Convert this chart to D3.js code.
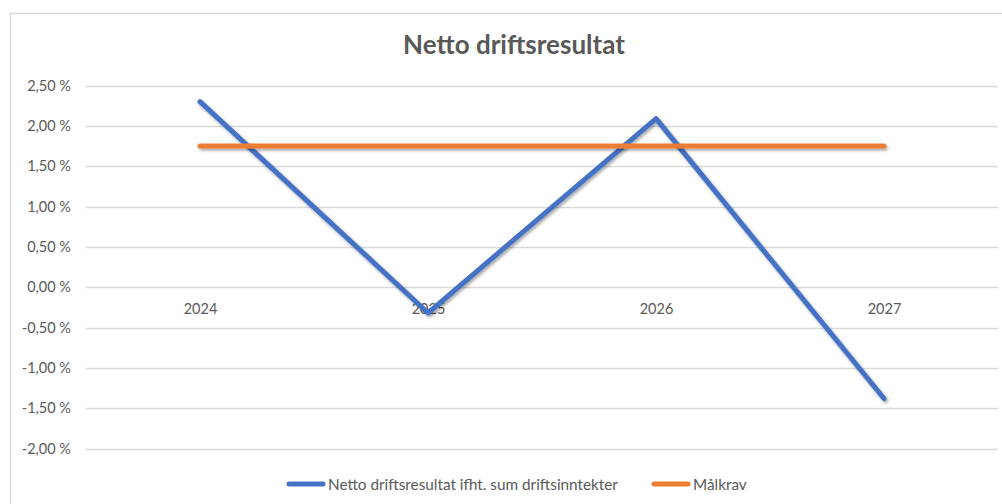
<!DOCTYPE html>
<html>
<head>
<meta charset="utf-8">
<script src="https://cdn.jsdelivr.net/npm/d3@7"></script>
<style>
    body { margin: 0; background: #fff; }
    svg { display: block; font-family: Lato, "Open Sans", sans-serif; }
</style>
</head>
<body>
<div id="chart"></div>
<script>
// chart data
var years = ["2024", "2025", "2026", "2027"];
var nettoResultat = [2.30, -0.32, 2.09, -1.38];
var maalkrav = [1.75, 1.75, 1.75, 1.75];
var yTicks = [-2.0, -1.5, -1.0, -0.5, 0, 0.5, 1.0, 1.5, 2.0, 2.5];
var seriesNames = ["Netto driftsresultat ifht. sum driftsinntekter", "Målkrav"];

var width = 1002, height = 504;
var textColor = "#595959", gridColor = "#d9d9d9";
var colors = ["#4472c4", "#ed7d31"];

var svg = d3.select("#chart").append("svg")
    .attr("width", width)
    .attr("height", height);

// soft shadow under the lines, like excel
// (userSpaceOnUse so the flat line does not lose its filter region)
var defs = svg.append("defs");
defs.append("filter")
    .attr("id", "shadow")
    .attr("filterUnits", "userSpaceOnUse")
    .attr("x", 0).attr("y", 0)
    .attr("width", width).attr("height", height)
    .append("feDropShadow")
    .attr("dx", 1.5)
    .attr("dy", 2)
    .attr("stdDeviation", 1.6)
    .attr("flood-color", "#000")
    .attr("flood-opacity", 0.35);

// chart border (left and top visible)
svg.append("path")
    .attr("d", "M10.5," + height + "V13.5H" + width)
    .attr("fill", "none")
    .attr("stroke", gridColor)
    .attr("stroke-width", 1.3);

svg.append("text")
    .attr("x", 514)
    .attr("y", 54)
    .attr("text-anchor", "middle")
    .attr("font-size", 26)
    .attr("font-weight", "bold")
    .attr("fill", textColor)
    .text("Netto driftsresultat");

// scales
var x = d3.scalePoint().domain(years).range([86, 998]).padding(0.5),
    y = d3.scaleLinear().domain([-2, 2.5]).range([448.5, 85.5]);

var locale = d3.formatLocale({
    decimal: ",", thousands: " ", grouping: [3],
    currency: ["", " kr"], percent: " %", minus: "-"
});
var pct = function (d) { return locale.format(".2%")(d / 100); };

// gridlines
svg.append("g")
    .selectAll("line")
    .data(yTicks)
    .enter().append("line")
    .attr("x1", 86)
    .attr("x2", 998)
    .attr("y1", function (d) { return Math.round(y(d)) + 0.5; })
    .attr("y2", function (d) { return Math.round(y(d)) + 0.5; })
    .attr("stroke", gridColor)
    .attr("stroke-width", 1.3);

// y axis
var yAxis = svg.append("g")
    .attr("transform", "translate(86,0)")
    .call(d3.axisLeft(y).tickValues(yTicks).tickFormat(pct).tickSize(0).tickPadding(15));
yAxis.select(".domain").remove();
yAxis.selectAll("text")
    .attr("font-family", "Lato, 'Open Sans', sans-serif")
    .attr("font-size", 14.5)
    .attr("fill", textColor);

// x axis at zero
var xAxis = svg.append("g")
    .attr("transform", "translate(0," + y(0) + ")")
    .call(d3.axisBottom(x).tickSize(0).tickPadding(17));
xAxis.select(".domain").remove();
xAxis.selectAll("text")
    .attr("font-family", "Lato, 'Open Sans', sans-serif")
    .attr("font-size", 14.5)
    .attr("fill", textColor);

// lines
var line = d3.line()
    .x(function (d, i) { return x(years[i]); })
    .y(function (d) { return y(d); });

[nettoResultat, maalkrav].forEach(function (values, i) {
    svg.append("path")
        .datum(values)
        .attr("d", line)
        .attr("fill", "none")
        .attr("stroke", colors[i])
        .attr("stroke-width", 5)
        .attr("stroke-linecap", "round")
        .attr("stroke-linejoin", "round")
        .attr("filter", "url(#shadow)");
});

// legend
var legendX = [287, 652];
var legend = svg.append("g")
    .selectAll("g")
    .data(seriesNames)
    .enter().append("g")
    .attr("transform", function (d, i) { return "translate(" + legendX[i] + ",484)"; });

legend.append("line")
    .attr("x1", 2)
    .attr("x2", 36)
    .attr("stroke", function (d, i) { return colors[i]; })
    .attr("stroke-width", 5)
    .attr("stroke-linecap", "round");

legend.append("text")
    .attr("x", 41)
    .attr("y", 5.5)
    .attr("font-size", 15.3)
    .attr("fill", textColor)
    .text(function (d) { return d; });
</script>
</body>
</html>
